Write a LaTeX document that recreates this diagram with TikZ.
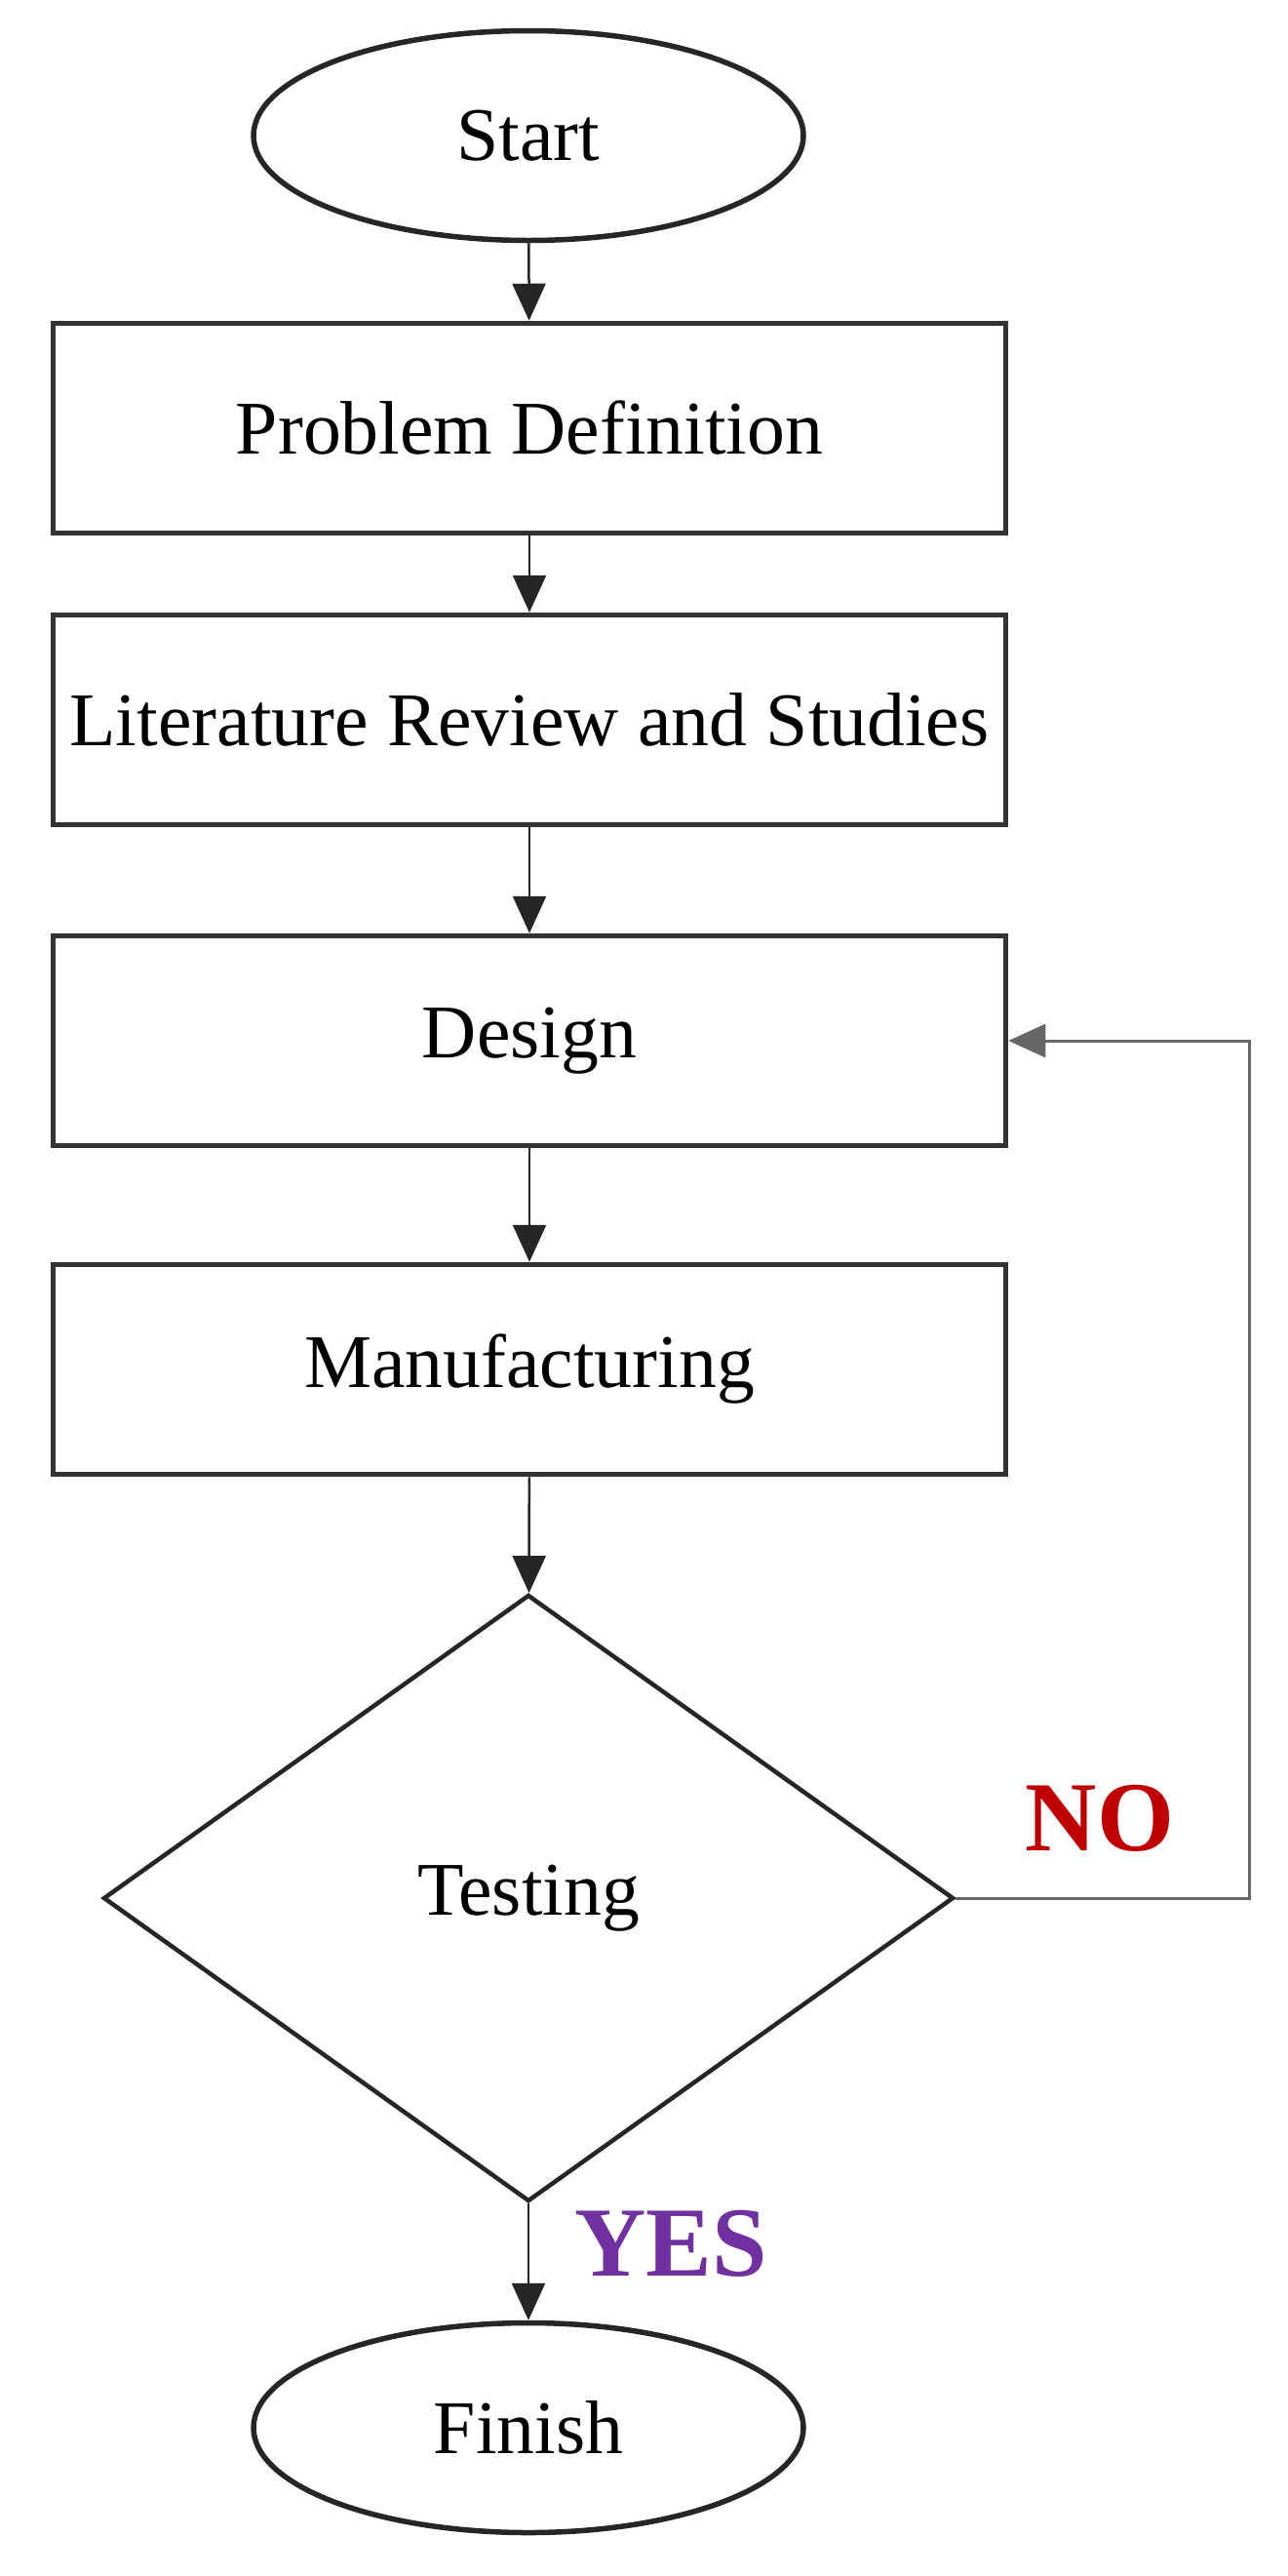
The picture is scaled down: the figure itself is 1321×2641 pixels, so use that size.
\documentclass[tikz,border=0pt]{standalone}
\usepackage{fontspec}
\setmainfont{Liberation Serif}
\usetikzlibrary{shapes.geometric,arrows.meta}
\definecolor{noRed}{HTML}{C00000}
\definecolor{yesPurple}{HTML}{7030A0}
\tikzset{
  every node/.style={inner sep=0pt, font=\fontsize{78}{90}\selectfont},
  terminal/.style={draw=black!85, line width=5.5bp, ellipse, minimum width=564bp, minimum height=215bp},
  stepbox/.style={draw=black!80, line width=5.5bp, rectangle, minimum width=977bp, minimum height=215bp},
  decision/.style={draw=black!85, line width=4.5bp, diamond, minimum width=872bp, minimum height=622bp},
  flow/.style={draw=black!85, line width=2.5bp, -{Triangle[length=38bp,width=34bp]}},
  loopline/.style={draw=black!60, line width=3bp, -{Triangle[length=38bp,width=34bp]}},
  answer/.style={font=\fontsize{102}{110}\selectfont\bfseries}
}
\begin{document}
\begin{tikzpicture}[x=1bp,y=-1bp]
\useasboundingbox (0,0) rectangle (1321,2641);
\node[terminal] (start) at (542,139) {Start};
\node[stepbox] (prob) at (543,439) {Problem Definition};
\node[stepbox] (lit) at (543,738) {Literature Review and Studies};
\node[stepbox] (design) at (543,1067) {Design};
\node[stepbox] (manuf) at (543,1404) {Manufacturing};
\node[decision] (test) at (542,1946) {Testing};
\node[terminal] (finish) at (542,2489) {Finish};
\node[answer, text=noRed] (no) at (1128,1864) {NO};
\node[answer, text=yesPurple] (yes) at (688,2300) {YES};
\coordinate (c1) at (1281,1946);
\coordinate (c2) at (1281,1067);
\draw[flow] (start) -- (prob);
\draw[flow] (prob) -- (lit);
\draw[flow] (lit) -- (design);
\draw[flow] (design) -- (manuf);
\draw[flow] (manuf) -- (test);
\draw[flow] (test) -- (finish);
\draw[loopline] (test.east) -- (c1) -- (c2) -- (design.east);
\end{tikzpicture}
\end{document}
